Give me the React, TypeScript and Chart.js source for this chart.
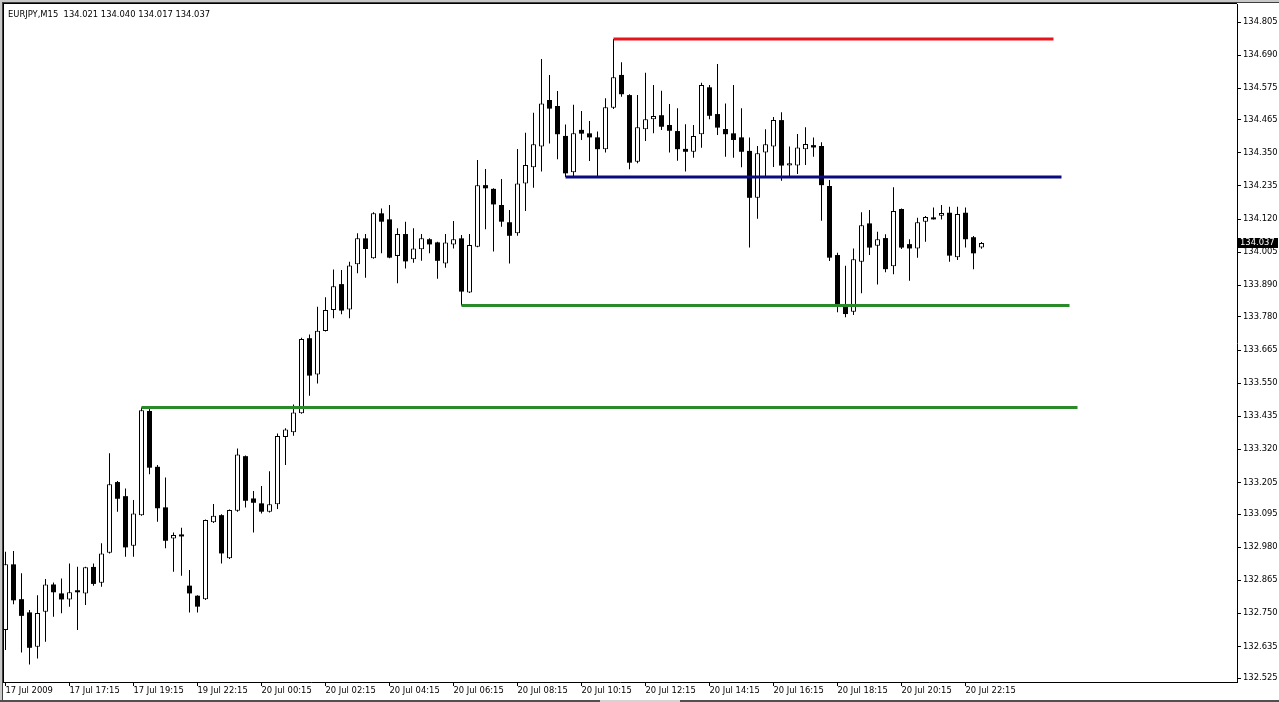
import React, { useEffect, useRef } from "react";
import { Chart, registerables } from "chart.js";

Chart.register(...registerables);

const symbolTitle = "EURJPY,M15";

const opens = [
  132.692, 132.920, 132.799, 132.753, 132.634, 132.755, 132.850, 132.819, 132.798, 132.825,
  132.819, 132.911, 132.856, 132.960, 133.206, 133.157, 132.985, 133.091, 133.453, 133.259,
  133.118, 133.010, 133.020, 132.846, 132.811, 132.799, 133.066, 133.091, 132.941, 133.106,
  133.296, 133.149, 133.132, 133.103, 133.129, 133.363, 133.379, 133.445, 133.706, 133.580,
  133.731, 133.804, 133.894, 133.806, 133.963, 134.053, 133.984, 134.140, 134.119, 133.992,
  134.068, 133.980, 134.015, 134.050, 134.039, 133.966, 134.032, 134.053, 133.865, 134.024,
  134.238, 134.225, 134.169, 134.109, 134.071, 134.244, 134.300, 134.372, 134.534, 134.513,
  134.409, 134.283, 134.430, 134.418, 134.404, 134.363, 134.507, 134.621, 134.551, 134.319,
  134.432, 134.467, 134.481, 134.447, 134.426, 134.364, 134.354, 134.415, 134.578, 134.485,
  134.433, 134.418, 134.404, 134.357, 134.194, 134.351, 134.372, 134.464, 134.306, 134.306,
  134.363, 134.377, 134.374, 134.235, 133.995, 133.821, 133.798, 133.972, 134.105, 134.027,
  134.054, 133.956, 134.155, 134.033, 134.018, 134.111, 134.123, 134.132, 134.142, 133.987,
  134.142, 134.057, 134.021,
];
const highs = [
  132.964, 132.966, 132.889, 132.761, 132.813, 132.869, 132.857, 132.871, 132.923, 132.912,
  132.912, 132.923, 132.993, 133.306, 133.210, 133.184, 133.144, 133.465, 133.460, 133.265,
  133.222, 133.031, 133.047, 132.900, 132.813, 133.076, 133.130, 133.094, 133.111, 133.323,
  133.298, 133.175, 133.192, 133.244, 133.375, 133.393, 133.476, 133.708, 133.719, 133.815,
  133.848, 133.945, 133.943, 133.972, 134.071, 134.068, 134.144, 134.157, 134.169, 134.088,
  134.111, 134.088, 134.068, 134.053, 134.041, 134.068, 134.113, 134.065, 134.068, 134.325,
  134.294, 134.227, 134.259, 134.152, 134.364, 134.420, 134.490, 134.676, 134.621, 134.565,
  134.449, 134.517, 134.496, 134.461, 134.424, 134.540, 134.746, 134.665, 134.554, 134.551,
  134.629, 134.586, 134.566, 134.520, 134.505, 134.450, 134.447, 134.594, 134.586, 134.659,
  134.522, 134.586, 134.505, 134.404, 134.374, 134.432, 134.475, 134.491, 134.372, 134.416,
  134.439, 134.404, 134.387, 134.256, 134.003, 133.958, 134.018, 134.144, 134.152, 134.076,
  134.067, 134.231, 134.157, 134.050, 134.125, 134.131, 134.160, 134.169, 134.163, 134.163,
  134.160, 134.061, 134.040,
];
const lows = [
  132.622, 132.781, 132.614, 132.572, 132.593, 132.651, 132.738, 132.750, 132.773, 132.692,
  132.779, 132.846, 132.842, 132.958, 133.103, 132.946, 132.946, 133.089, 133.233, 133.068,
  132.976, 132.894, 132.880, 132.753, 132.753, 132.796, 133.064, 132.923, 132.939, 133.103,
  133.118, 133.031, 133.097, 133.100, 133.112, 133.265, 133.367, 133.443, 133.506, 133.549,
  133.729, 133.775, 133.789, 133.775, 133.932, 133.916, 133.982, 134.001, 133.984, 133.897,
  133.948, 133.968, 133.975, 134.001, 133.913, 133.951, 134.018, 133.820, 133.863, 134.022,
  134.085, 134.007, 134.093, 133.966, 134.062, 134.148, 134.229, 134.285, 134.383, 134.328,
  134.266, 134.267, 134.395, 134.322, 134.267, 134.351, 134.503, 134.545, 134.293, 134.314,
  134.391, 134.418, 134.430, 134.351, 134.323, 134.285, 134.333, 134.368, 134.467, 134.412,
  134.337, 134.333, 134.300, 134.021, 134.121, 134.269, 134.301, 134.253, 134.267, 134.277,
  134.308, 134.337, 134.114, 133.974, 133.796, 133.779, 133.787, 133.862, 133.995, 133.893,
  133.935, 133.928, 134.016, 133.906, 133.986, 134.041, 134.119, 134.119, 133.972, 133.978,
  134.021, 133.946, 134.017,
];
const closes = [
  132.920, 132.795, 132.741, 132.630, 132.751, 132.850, 132.823, 132.798, 132.823, 132.823,
  132.910, 132.852, 132.958, 133.198, 133.148, 132.979, 133.097, 133.456, 133.256, 133.115,
  133.002, 133.022, 133.017, 132.819, 132.773, 133.074, 133.089, 132.958, 133.109, 133.302,
  133.141, 133.134, 133.103, 133.129, 133.366, 133.389, 133.448, 133.703, 133.576, 133.732,
  133.804, 133.887, 133.802, 133.959, 134.053, 134.016, 134.140, 134.111, 133.986, 134.068,
  133.973, 134.018, 134.053, 134.032, 133.975, 134.039, 134.050, 133.868, 134.030, 134.238,
  134.227, 134.171, 134.111, 134.062, 134.244, 134.308, 134.380, 134.522, 134.504, 134.415,
  134.279, 134.418, 134.417, 134.404, 134.363, 134.509, 134.613, 134.554, 134.316, 134.439,
  134.467, 134.478, 134.441, 134.427, 134.363, 134.354, 134.409, 134.586, 134.479, 134.438,
  134.415, 134.395, 134.354, 134.194, 134.349, 134.380, 134.464, 134.306, 134.314, 134.369,
  134.381, 134.369, 134.238, 133.986, 133.824, 133.790, 133.980, 134.099, 134.021, 134.050,
  133.946, 134.148, 134.021, 134.018, 134.109, 134.127, 134.119, 134.141, 133.993, 134.138,
  134.050, 134.001, 134.037,
];

const timeLabels = [
  "17 Jul 2009", "17 Jul 17:15", "17 Jul 19:15", "19 Jul 22:15",
  "20 Jul 00:15", "20 Jul 02:15", "20 Jul 04:15", "20 Jul 06:15",
  "20 Jul 08:15", "20 Jul 10:15", "20 Jul 12:15", "20 Jul 14:15",
  "20 Jul 16:15", "20 Jul 18:15", "20 Jul 20:15", "20 Jul 22:15",
];
const barsPerTimeLabel = 8;

const priceTicks = [
  134.805, 134.69, 134.575, 134.465, 134.35, 134.235, 134.12, 134.005, 133.89, 133.78,
  133.665, 133.55, 133.435, 133.32, 133.205, 133.095, 132.98, 132.865, 132.75, 132.635, 132.525,
];

const levelPrices = [134.746, 134.266, 133.82, 133.465];
const levelFromBar = [76, 70, 57, 17];
const levelToBar = [131, 132, 133, 134];
const levelColors = ["#e8141b", "#0b0b80", "#2a8a2a", "#2a8a2a"];

const W = 1279;
const H = 702;
const FONT = "'DejaVu Sans', Verdana, sans-serif";
const FONT_SIZE = 8.4;

const framePlugin = {
  id: "mt4frame",
  beforeDraw(chart: any) {
    const ctx = chart.ctx;
    ctx.save();
    ctx.fillStyle = "#ffffff";
    ctx.fillRect(0, 0, W, H);
    ctx.restore();
  },
  afterDraw(chart: any) {
    const ctx = chart.ctx;
    const area = chart.chartArea;
    ctx.save();
    // window chrome
    ctx.fillStyle = "#c8c8c8";
    ctx.fillRect(0, 0, W, 2);
    ctx.fillRect(0, 0, 2, H);
    ctx.fillStyle = "#404040";
    ctx.fillRect(2, 2, W - 2, 1);
    ctx.fillRect(2, 2, 1, H - 2);
    ctx.fillStyle = "#000000";
    ctx.fillRect(3, 3, area.right - 3, 1);
    ctx.fillRect(3, 3, 1, area.bottom - 2);
    ctx.fillStyle = "#505050";
    ctx.fillRect(0, H - 2, W, 2);
    ctx.fillStyle = "#d4d4d4";
    ctx.fillRect(600, H - 2, 80, 2);
    // current price label
    const last = closes[closes.length - 1];
    const y = chart.scales.y.getPixelForValue(last);
    ctx.fillStyle = "#000000";
    ctx.fillRect(area.right + 1, Math.round(y) - 5, 40, 10);
    ctx.fillStyle = "#ffffff";
    ctx.font = `${FONT_SIZE}px ${FONT}`;
    ctx.textBaseline = "middle";
    ctx.textAlign = "left";
    ctx.fillText(last.toFixed(3), area.right + 3, Math.round(y));
    ctx.restore();
  },
};

export default function App() {
  const canvasRef = useRef<HTMLCanvasElement | null>(null);

  useEffect(() => {
    document.body.style.margin = "0";
    const canvas = canvasRef.current;
    if (!canvas) return;

    const idx = opens.map((_, i) => i);
    const upBodies = idx
      .filter((i) => closes[i] >= opens[i])
      .map((i) => ({ x: i, y: [opens[i], closes[i]] }));
    const downBodies = idx
      .filter((i) => closes[i] < opens[i])
      .map((i) => ({ x: i, y: [closes[i], opens[i]] }));
    const wicks = idx.map((i) => ({ x: i, y: [lows[i], highs[i]] }));

    const levelDatasets = levelPrices.map((p, k) => ({
      type: "line" as const,
      data: [
        { x: levelFromBar[k], y: p },
        { x: levelToBar[k], y: p },
      ],
      borderColor: levelColors[k],
      borderWidth: 3,
      pointRadius: 0,
      order: 0,
    }));

    const pxPerBar = 8;
    const areaLeft = 3;
    const areaRight = 1237;
    const firstBarPx = 5.5;
    const xMin = (areaLeft - firstBarPx) / pxPerBar;
    const xMax = xMin + (areaRight - areaLeft) / pxPerBar;

    const areaTop = 4;
    const areaBottom = 682;
    const topTickPx = 22;
    const bottomTickPx = 678;
    const pxPerUnit = (bottomTickPx - topTickPx) / (priceTicks[0] - priceTicks[priceTicks.length - 1]);
    const yMax = priceTicks[0] + (topTickPx - areaTop) / pxPerUnit;
    const yMin = priceTicks[priceTicks.length - 1] - (areaBottom - bottomTickPx) / pxPerUnit;

    const zeroPad = (s: any) => {
      s.paddingTop = 0;
      s.paddingBottom = 0;
      s.paddingLeft = 0;
      s.paddingRight = 0;
    };

    const chart = new Chart(canvas, {
      type: "bar",
      data: {
        datasets: [
          ...levelDatasets,
          {
            type: "bar",
            data: upBodies,
            backgroundColor: "#ffffff",
            borderColor: "#000000",
            borderWidth: 1,
            borderSkipped: false,
            barThickness: 5,
            grouped: false,
            minBarLength: 2,
            inflateAmount: 0,
            order: 1,
          },
          {
            type: "bar",
            data: downBodies,
            backgroundColor: "#000000",
            borderWidth: 0,
            barThickness: 5,
            grouped: false,
            minBarLength: 2,
            inflateAmount: 0,
            order: 1,
          },
          {
            type: "bar",
            data: wicks,
            backgroundColor: "#000000",
            borderWidth: 0,
            barThickness: 1,
            grouped: false,
            inflateAmount: 0,
            order: 2,
          },
        ] as any,
      },
      options: {
        animation: false,
        responsive: false,
        maintainAspectRatio: false,
        events: [],
        layout: { padding: { left: areaLeft, top: areaTop, right: 0, bottom: 0 } },
        plugins: { legend: { display: false }, tooltip: { enabled: false }, title: { display: false } },
        scales: {
          x: {
            type: "linear",
            min: xMin,
            max: xMax,
            offset: false,
            grid: { display: true, offset: false, drawOnChartArea: false, drawTicks: true, tickLength: 4, color: "#000000" },
            border: { display: true, color: "#000000" },
            afterBuildTicks: (s: any) => {
              s.ticks = timeLabels.map((_, k) => ({ value: k * barsPerTimeLabel }));
            },
            afterFit: (s: any) => {
              s.height = H - areaBottom;
              zeroPad(s);
            },
            ticks: {
              autoSkip: false,
              maxRotation: 0,
              minRotation: 0,
              align: "start",
              padding: 0,
              color: "#000000",
              font: { family: FONT, size: FONT_SIZE },
              callback: (_v: any, i: number) => timeLabels[i],
            },
          },
          y: {
            type: "linear",
            position: "right",
            min: yMin,
            max: yMax,
            grid: { display: true, drawOnChartArea: false, drawTicks: true, tickLength: 4, color: "#000000" },
            border: { display: true, color: "#000000" },
            afterBuildTicks: (s: any) => {
              s.ticks = priceTicks.map((v) => ({ value: v }));
            },
            afterFit: (s: any) => {
              s.width = W - areaRight;
              zeroPad(s);
            },
            ticks: {
              autoSkip: false,
              padding: 2,
              color: "#000000",
              font: { family: FONT, size: FONT_SIZE },
              callback: (v: any) => Number(v).toFixed(3),
            },
          },
        },
      } as any,
      plugins: [framePlugin],
    });

    return () => chart.destroy();
  }, []);

  const lastIdx = opens.length - 1;
  const header = `${symbolTitle}  ${opens[lastIdx].toFixed(3)} ${highs[lastIdx].toFixed(3)} ${lows[lastIdx].toFixed(3)} ${closes[lastIdx].toFixed(3)}`;

  return (
    <div style={{ position: "fixed", left: 0, top: 0, width: W, height: H, background: "#fff" }}>
      <canvas ref={canvasRef} width={W} height={H} style={{ display: "block", width: W, height: H }} />
      <div
        style={{
          position: "absolute",
          left: 8,
          top: 8,
          fontFamily: FONT,
          fontSize: FONT_SIZE,
          lineHeight: "12px",
          color: "#000",
          whiteSpace: "pre",
        }}
      >
        {header}
      </div>
    </div>
  );
}
